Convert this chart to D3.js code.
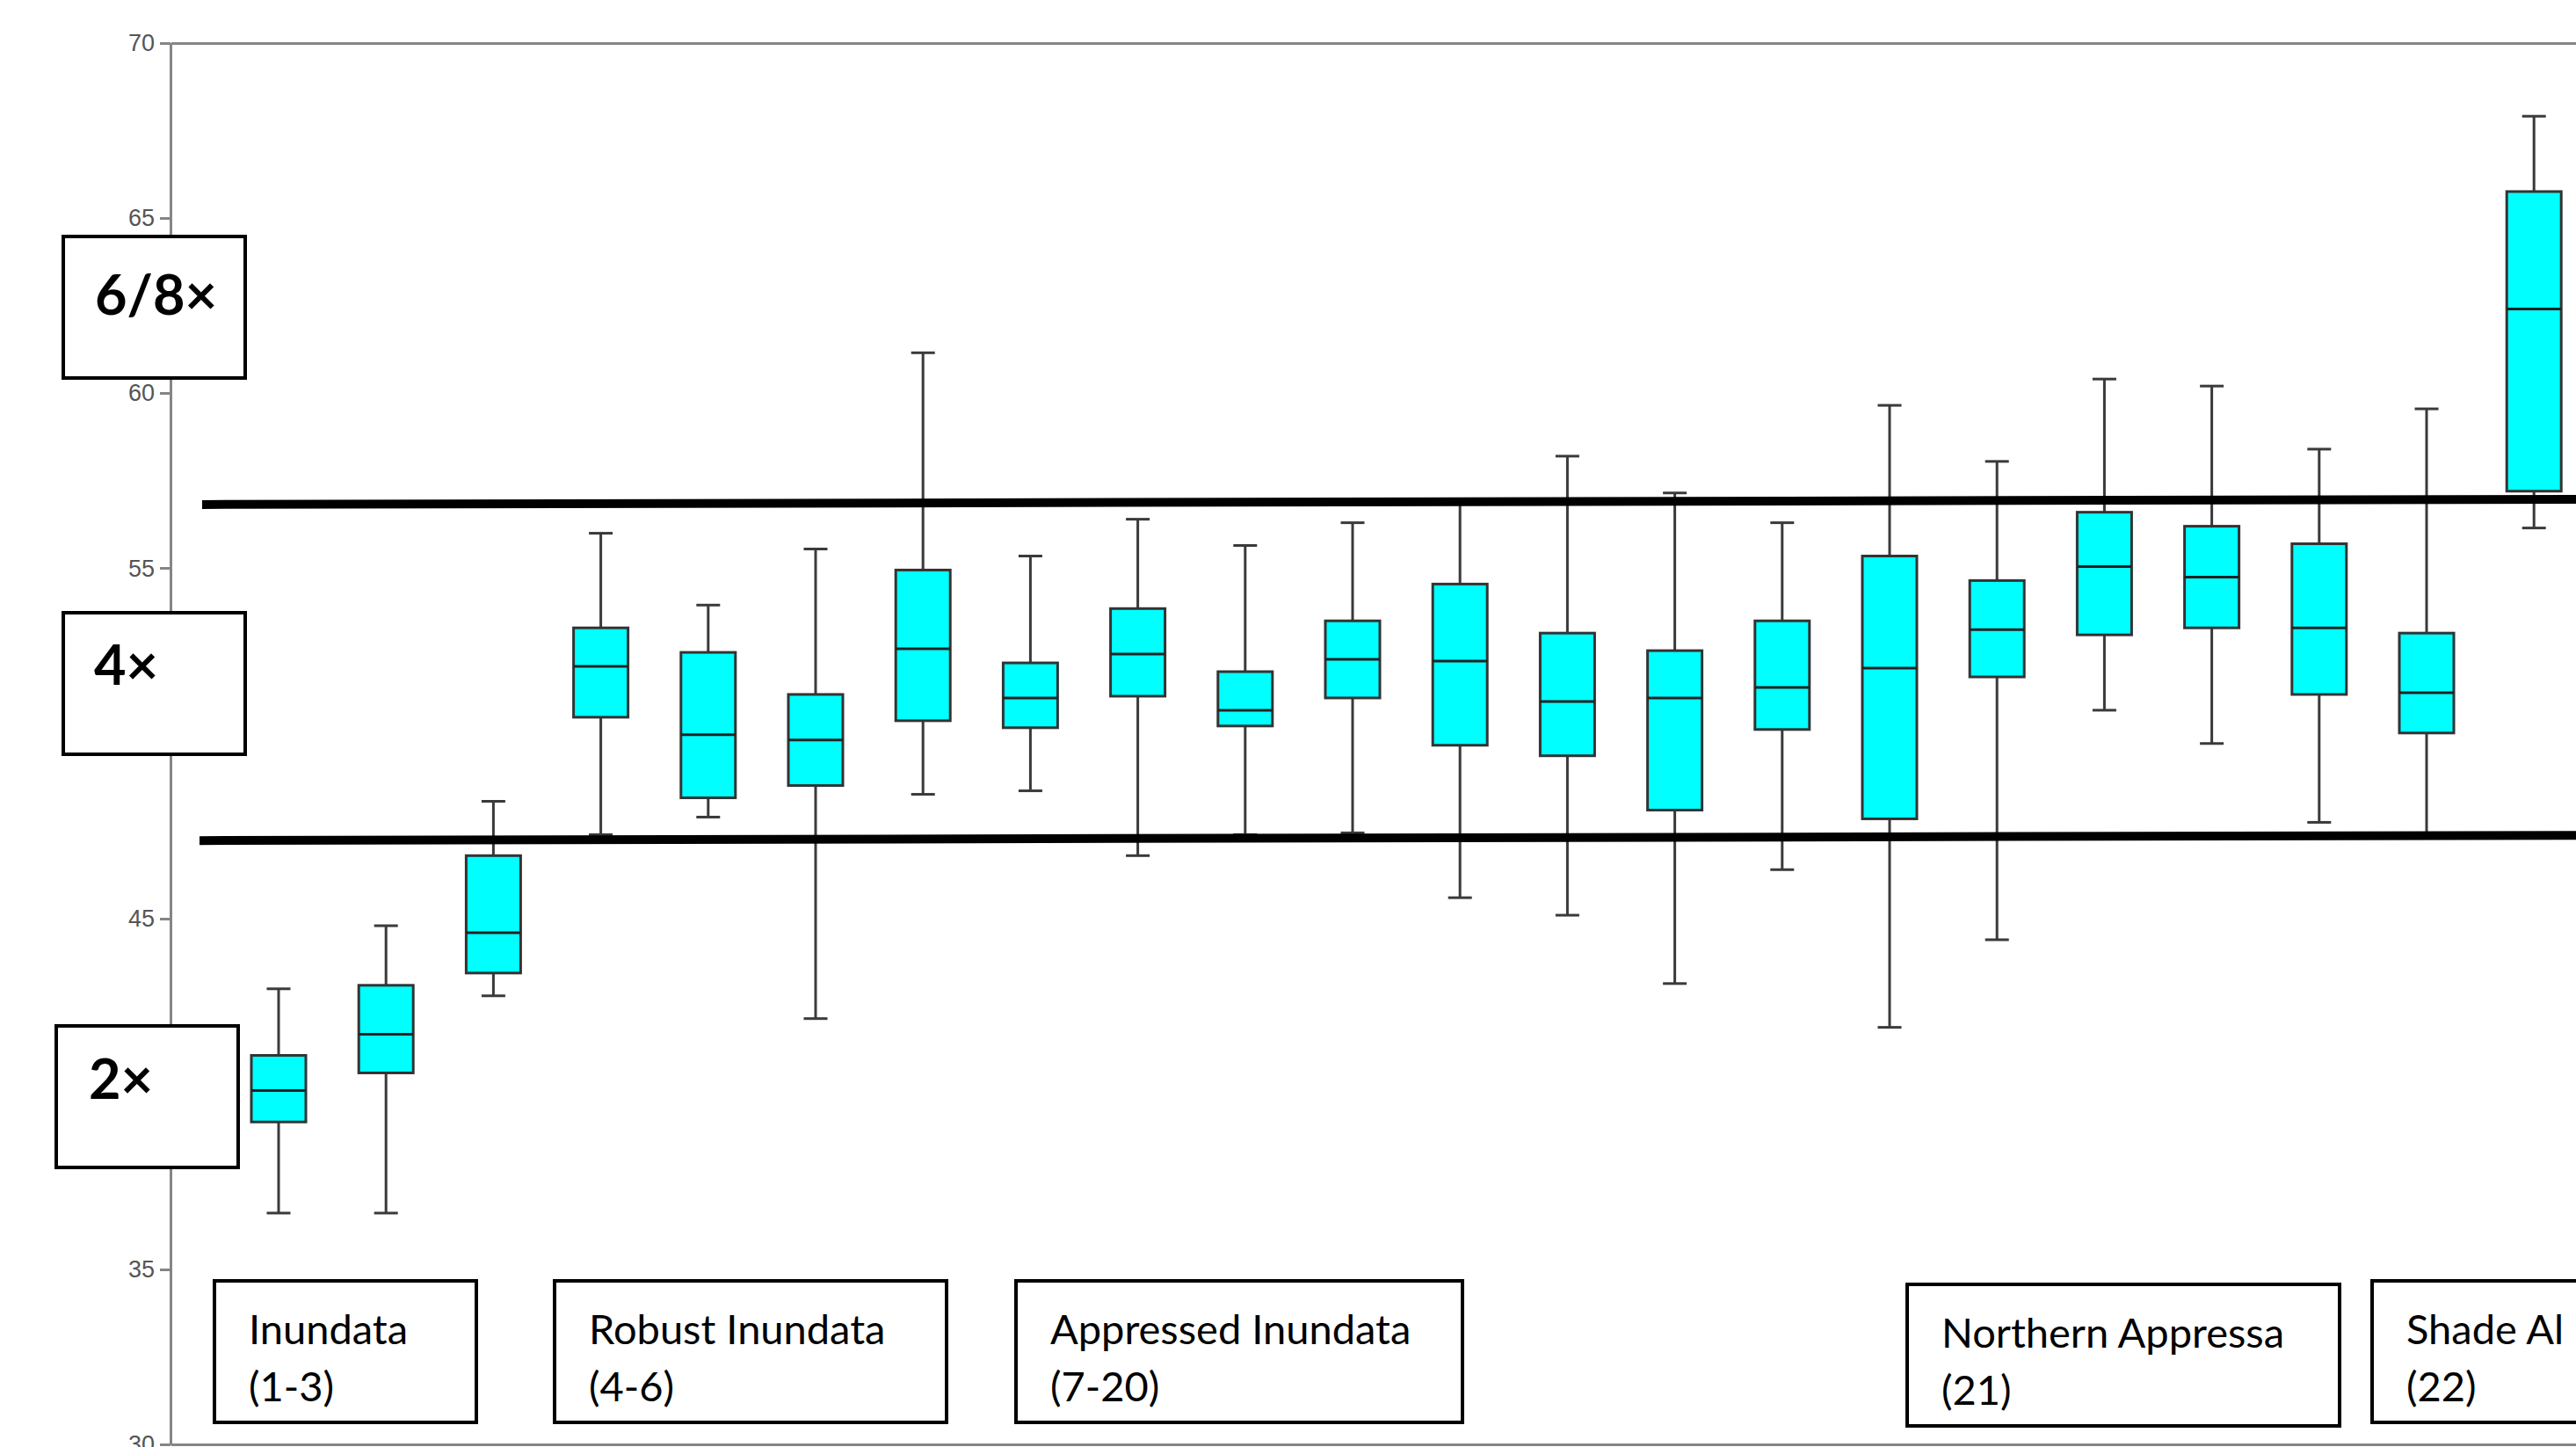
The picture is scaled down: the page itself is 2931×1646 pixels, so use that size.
<!doctype html>
<html>
<head>
<meta charset="UTF-8" />
<title>Box plots by group</title>
<script src="https://d3js.org/d3.v7.min.js"></script>
<style type="text/css">
body {
	margin: 0;
	background: #fff;
}

.axis path,
.axis line {
	stroke: #858585;
	stroke-width: 3px;
	shape-rendering: crispEdges;
}

.axis text {
	font-family: "Liberation Sans", Arial, sans-serif;
	font-size: 27px;
	fill: #555;
}

.whisker {
	stroke: #3a3a3a;
	stroke-width: 3px;
}

.box {
	fill: #00ffff;
	stroke: #333;
	stroke-width: 3px;
}

.median {
	stroke: #222;
	stroke-width: 3px;
}

.refline {
	stroke: #000;
	stroke-width: 10px;
}

.note rect {
	fill: #fff;
	stroke: #000;
	stroke-width: 4px;
}

.note text {
	font-family: Lato, "Open Sans", sans-serif;
}
</style>
</head>
<body>
<div class="container"></div>
<script>
	// plant numbers along the x axis
	var categories = [1, 2, 3, 4, 5, 6, 7, 8, 9, 10, 11, 12, 13, 14, 15, 16, 17, 18, 19, 20, 21, 22];

	// five number summaries
	var whiskerLow  = [36.6, 36.6, 42.8, 47.4, 47.9, 42.15, 48.55, 48.65, 46.8, 47.4, 47.45, 45.6, 45.1, 43.15, 46.4, 41.9, 44.4, 50.95, 50.0, 47.75, 47.4, 56.15];
	var q1          = [39.2, 40.6, 43.45, 50.75, 48.45, 48.8, 50.65, 50.45, 51.35, 50.5, 51.3, 49.95, 49.65, 48.1, 50.4, 47.85, 51.9, 53.1, 53.3, 51.4, 50.3, 57.2];
	var median      = [40.1, 41.7, 44.6, 52.2, 50.25, 50.1, 52.7, 51.3, 52.55, 50.95, 52.4, 52.35, 51.2, 51.3, 51.6, 52.15, 53.25, 55.05, 54.75, 53.3, 51.45, 62.4];
	var q3          = [41.1, 43.1, 46.8, 53.3, 52.6, 51.4, 54.95, 52.3, 53.85, 52.05, 53.5, 54.55, 53.15, 52.65, 53.5, 55.35, 54.65, 56.6, 56.2, 55.7, 53.15, 65.75];
	var whiskerHigh = [43.0, 44.8, 48.35, 56.0, 53.95, 55.55, 61.15, 55.35, 56.4, 55.65, 56.3, 56.9, 58.2, 57.15, 56.3, 59.65, 58.05, 60.4, 60.2, 58.4, 59.55, 67.9];

	// 40 and 50 sit under the ploidy notes, so only these show
	var yTicks = [30, 35, 45, 55, 60, 65, 70];

	// the two hand drawn threshold lines (value at left end, value at right end)
	var refLeft  = [56.82, 47.23];
	var refRight = [56.97, 47.38];

	var ploidyLabels = ["6/8×", "4×", "2×"];
	var groupNames  = ["Inundata", "Robust Inundata", "Appressed Inundata", "Northern Appressa", "Shade Al"];
	var groupRanges = ["(1-3)", "(4-6)", "(7-20)", "(21)", "(22)"];

	var width = 2931,
		height = 1646,
		axisX = 194,
		boxWidth = 62,
		capWidth = 27;

	var svg = d3.select(".container").append("svg")
		.attr("width", width)
		.attr("height", height)
		.style("display", "block");

	var y = d3.scaleLinear()
		.domain([30, 70])
		.range([1643, 48.5]);

	var x = d3.scalePoint()
		.domain(categories)
		.range([317, 2883.2]);

	var data = categories.map(function(c, i) {
		return {cat: c, lo: whiskerLow[i], q1: q1[i], med: median[i], q3: q3[i], hi: whiskerHigh[i]};
	});

	// frame: left axis, top line, bottom line
	var yAxis = d3.axisLeft(y)
		.tickValues(yTicks)
		.tickSize(12)
		.tickSizeOuter(0)
		.tickPadding(6);

	svg.append("g")
		.attr("class", "y axis")
		.attr("transform", "translate(" + axisX + ",0)")
		.call(yAxis);

	var frameX = d3.scaleLinear().range([axisX, width + 10]);
	svg.append("g")
		.attr("class", "x axis")
		.attr("transform", "translate(0," + y(30) + ")")
		.call(d3.axisBottom(frameX).tickValues([]).tickSizeOuter(0));
	svg.append("g")
		.attr("class", "x axis")
		.attr("transform", "translate(0," + y(70) + ")")
		.call(d3.axisTop(frameX).tickValues([]).tickSizeOuter(0));

	// boxes
	var g = svg.selectAll(".boxplot")
		.data(data)
		.enter().append("g")
		.attr("class", "boxplot")
		.attr("transform", function(d) { return "translate(" + x(d.cat) + ",0)"; });

	g.append("line")
		.attr("class", "whisker")
		.attr("y1", function(d) { return y(d.hi); })
		.attr("y2", function(d) { return y(d.lo); });

	g.append("line")
		.attr("class", "whisker")
		.attr("x1", -capWidth / 2).attr("x2", capWidth / 2)
		.attr("y1", function(d) { return y(d.hi); })
		.attr("y2", function(d) { return y(d.hi); });

	g.append("line")
		.attr("class", "whisker")
		.attr("x1", -capWidth / 2).attr("x2", capWidth / 2)
		.attr("y1", function(d) { return y(d.lo); })
		.attr("y2", function(d) { return y(d.lo); });

	g.append("rect")
		.attr("class", "box")
		.attr("x", -boxWidth / 2)
		.attr("width", boxWidth)
		.attr("y", function(d) { return y(d.q3); })
		.attr("height", function(d) { return y(d.q1) - y(d.q3); });

	g.append("line")
		.attr("class", "median")
		.attr("x1", -boxWidth / 2).attr("x2", boxWidth / 2)
		.attr("y1", function(d) { return y(d.med); })
		.attr("y2", function(d) { return y(d.med); });

	// threshold lines
	var refStart = [230, 227];
	svg.selectAll(".refline")
		.data(refLeft)
		.enter().append("line")
		.attr("class", "refline")
		.attr("x1", function(d, i) { return refStart[i]; })
		.attr("x2", width)
		.attr("y1", function(d) { return y(d); })
		.attr("y2", function(d, i) { return y(refRight[i]); });

	// ploidy notes on the y axis
	var ploidyPos = [
		{x: 72, y: 269, w: 207, h: 161, tx: 36, ty: 89},
		{x: 72, y: 697, w: 207, h: 161, tx: 35, ty: 82},
		{x: 64, y: 1167, w: 207, h: 161, tx: 37, ty: 83}
	];

	var notes = svg.selectAll(".ploidy")
		.data(ploidyLabels)
		.enter().append("g")
		.attr("class", "note ploidy")
		.attr("transform", function(d, i) { return "translate(" + ploidyPos[i].x + "," + ploidyPos[i].y + ")"; });

	notes.append("rect")
		.attr("width", function(d, i) { return ploidyPos[i].w; })
		.attr("height", function(d, i) { return ploidyPos[i].h; });

	notes.append("text")
		.attr("x", function(d, i) { return ploidyPos[i].tx; })
		.attr("y", function(d, i) { return ploidyPos[i].ty; })
		.style("font-size", "63px")
		.style("font-weight", "bold")
		.text(function(d) { return d; });

	// group notes along the bottom
	var groupPos = [
		{x: 244, y: 1457, w: 298, h: 161},
		{x: 631, y: 1457, w: 446, h: 161},
		{x: 1156, y: 1457, w: 508, h: 161},
		{x: 2170, y: 1461, w: 492, h: 161},
		{x: 2699, y: 1457, w: 300, h: 161}
	];

	var groups = svg.selectAll(".group")
		.data(groupNames)
		.enter().append("g")
		.attr("class", "note group")
		.attr("transform", function(d, i) { return "translate(" + groupPos[i].x + "," + groupPos[i].y + ")"; });

	groups.append("rect")
		.attr("width", function(d, i) { return groupPos[i].w; })
		.attr("height", function(d, i) { return groupPos[i].h; });

	groups.append("text")
		.attr("x", 39)
		.attr("y", 72)
		.style("font-size", "47px")
		.text(function(d) { return d; });

	groups.append("text")
		.attr("x", 39)
		.attr("y", 137)
		.style("font-size", "47px")
		.text(function(d, i) { return groupRanges[i]; });
</script>
</body>
</html>
